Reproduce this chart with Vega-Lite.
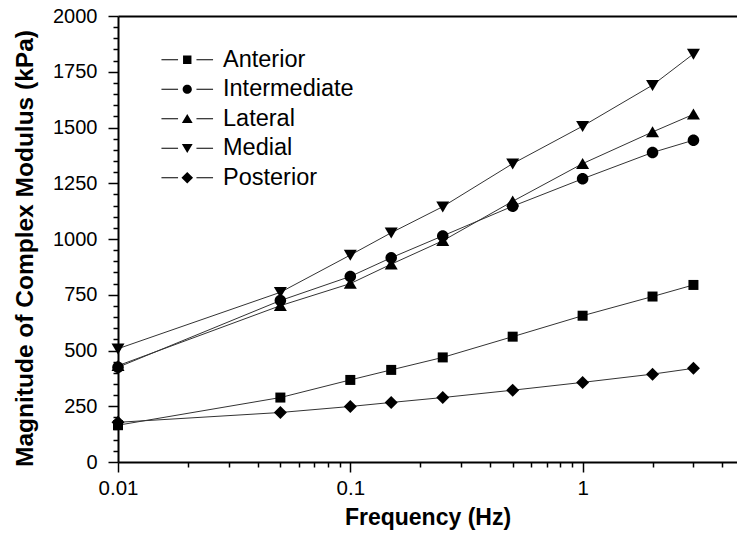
{
  "$schema": "https://vega.github.io/schema/vega-lite/v6.json",
  "width": 619,
  "height": 446,
  "autosize": {"type": "none"},
  "padding": {"left": 118, "top": 16, "right": 0, "bottom": 74},
  "background": "white",
  "config": {
    "view": {"stroke": null},
    "font": "Liberation Sans",
    "axis": {"grid": false, "domainColor": "black", "tickColor": "black", "labelColor": "black", "titleColor": "black", "labelFont": "Liberation Sans", "titleFont": "Liberation Sans"}
  },
  "data": {
    "values": [
      {"freq": 0.01, "region": "Anterior", "modulus": 165},
      {"freq": 0.05, "region": "Anterior", "modulus": 289},
      {"freq": 0.1, "region": "Anterior", "modulus": 368},
      {"freq": 0.15, "region": "Anterior", "modulus": 413},
      {"freq": 0.25, "region": "Anterior", "modulus": 469},
      {"freq": 0.5, "region": "Anterior", "modulus": 562},
      {"freq": 1, "region": "Anterior", "modulus": 656},
      {"freq": 2, "region": "Anterior", "modulus": 742},
      {"freq": 3, "region": "Anterior", "modulus": 794},
      {"freq": 0.01, "region": "Intermediate", "modulus": 425},
      {"freq": 0.05, "region": "Intermediate", "modulus": 724},
      {"freq": 0.1, "region": "Intermediate", "modulus": 832},
      {"freq": 0.15, "region": "Intermediate", "modulus": 916},
      {"freq": 0.25, "region": "Intermediate", "modulus": 1014},
      {"freq": 0.5, "region": "Intermediate", "modulus": 1147},
      {"freq": 1, "region": "Intermediate", "modulus": 1270},
      {"freq": 2, "region": "Intermediate", "modulus": 1388},
      {"freq": 3, "region": "Intermediate", "modulus": 1443},
      {"freq": 0.01, "region": "Lateral", "modulus": 432},
      {"freq": 0.05, "region": "Lateral", "modulus": 701},
      {"freq": 0.1, "region": "Lateral", "modulus": 800},
      {"freq": 0.15, "region": "Lateral", "modulus": 887},
      {"freq": 0.25, "region": "Lateral", "modulus": 992},
      {"freq": 0.5, "region": "Lateral", "modulus": 1169},
      {"freq": 1, "region": "Lateral", "modulus": 1338},
      {"freq": 2, "region": "Lateral", "modulus": 1480},
      {"freq": 3, "region": "Lateral", "modulus": 1559},
      {"freq": 0.01, "region": "Medial", "modulus": 508},
      {"freq": 0.05, "region": "Medial", "modulus": 761},
      {"freq": 0.1, "region": "Medial", "modulus": 928},
      {"freq": 0.15, "region": "Medial", "modulus": 1028},
      {"freq": 0.25, "region": "Medial", "modulus": 1145},
      {"freq": 0.5, "region": "Medial", "modulus": 1338},
      {"freq": 1, "region": "Medial", "modulus": 1506},
      {"freq": 2, "region": "Medial", "modulus": 1690},
      {"freq": 3, "region": "Medial", "modulus": 1830},
      {"freq": 0.01, "region": "Posterior", "modulus": 178},
      {"freq": 0.05, "region": "Posterior", "modulus": 222},
      {"freq": 0.1, "region": "Posterior", "modulus": 249},
      {"freq": 0.15, "region": "Posterior", "modulus": 267},
      {"freq": 0.25, "region": "Posterior", "modulus": 289},
      {"freq": 0.5, "region": "Posterior", "modulus": 322},
      {"freq": 1, "region": "Posterior", "modulus": 357},
      {"freq": 2, "region": "Posterior", "modulus": 394},
      {"freq": 3, "region": "Posterior", "modulus": 420}
    ]
  },
  "encoding": {
    "y": {
      "field": "modulus", "type": "quantitative",
      "scale": {"domain": [0, 2000], "nice": false},
      "axis": {
        "title": "Magnitude of Complex Modulus (kPa)",
        "titleFontSize": 24.5, "titleFontWeight": "bold", "titlePadding": 15, "titleY": 232,
        "values": [0, 50, 100, 150, 200, 250, 300, 350, 400, 450, 500, 550, 600, 650, 700, 750, 800, 850, 900, 950, 1000, 1050, 1100, 1150, 1200, 1250, 1300, 1350, 1400, 1450, 1500, 1550, 1600, 1650, 1700, 1750, 1800, 1850, 1900, 1950, 2000],
        "labelExpr": "datum.value % 250 === 0 ? format(datum.value, 'd') : ''",
        "labelFontSize": 20, "labelPadding": 11,
        "tickSize": {"condition": {"test": "datum.value % 250 === 0", "value": 10}, "value": 5},
        "tickWidth": 1.5, "domainWidth": 2, "labelFlush": false, "labelOverlap": false
      }
    }
  },
  "resolve": {"scale": {"shape": "independent"}, "axis": {"x": "independent"}},
  "layer": [
    {
      "mark": {"type": "line", "color": "#333333", "strokeWidth": 1},
      "encoding": {
        "x": {
          "field": "freq", "type": "quantitative",
          "scale": {"type": "log", "domain": [0.01, 4.62], "nice": false},
          "axis": {
            "orient": "bottom",
            "title": "Frequency (Hz)",
            "titleFontSize": 23, "titleFontWeight": "bold", "titlePadding": 8,
            "values": [0.01, 0.02, 0.03, 0.04, 0.05, 0.06, 0.07, 0.08, 0.09, 0.1, 0.2, 0.3, 0.4, 0.5, 0.6, 0.7, 0.8, 0.9, 1, 2, 3, 4],
            "labelExpr": "(datum.value == 0.01 || datum.value == 0.1 || datum.value == 1) ? format(datum.value, '~g') : ''",
            "labelFontSize": 20.5, "labelPadding": 6,
            "tickSize": {"condition": {"test": "datum.value == 0.01 || datum.value == 0.1 || datum.value == 1", "value": 10}, "value": 5},
            "tickWidth": 1.5, "domainWidth": 2, "labelFlush": false, "labelOverlap": false
          }
        },
        "detail": {"field": "region", "type": "nominal"}
      }
    },
    {
      "mark": {"type": "point", "filled": true, "color": "black", "opacity": 1, "size": 100, "strokeWidth": 0},
      "encoding": {
        "x": {
          "field": "freq", "type": "quantitative",
          "scale": {"type": "log", "domain": [0.01, 4.62], "nice": false},
          "axis": {"orient": "top", "title": null, "labels": false, "ticks": false, "domain": true, "domainWidth": 2, "domainColor": "black"}
        },
        "shape": {
          "field": "region", "type": "nominal",
          "scale": {
            "domain": ["Anterior", "Intermediate", "Lateral", "Medial", "Posterior"],
            "range": [
              "M-1,-1H1V1H-1Z",
              "M-1.15,0A1.15,1.15,0,1,1,1.15,0A1.15,1.15,0,1,1,-1.15,0Z",
              "M0,-1.15L1.3,1.05L-1.3,1.05Z",
              "M0,1.15L1.3,-1.05L-1.3,-1.05Z",
              "M0,-1.3L1.3,0L0,1.3L-1.3,0Z"
            ]
          },
          "legend": null
        }
      }
    },
    {
      "mark": {"type": "point", "filled": true, "color": "black", "opacity": 0, "size": 64, "strokeWidth": 0},
      "encoding": {
        "x": {
          "field": "freq", "type": "quantitative",
          "scale": {"type": "log", "domain": [0.01, 4.62], "nice": false},
          "axis": null
        },
        "shape": {
          "field": "region", "type": "nominal",
          "scale": {
            "domain": ["Anterior", "Intermediate", "Lateral", "Medial", "Posterior"],
            "range": [
              "M-6.45,-0.13H-2.3V0.13H-6.45Z M2.3,-0.13H6.45V0.13H2.3Z M-1.05,-1.05H1.05V1.05H-1.05Z",
              "M-6.45,-0.13H-2.3V0.13H-6.45Z M2.3,-0.13H6.45V0.13H2.3Z M-1.15,0A1.15,1.15,0,1,1,1.15,0A1.15,1.15,0,1,1,-1.15,0Z",
              "M-6.45,-0.13H-2.3V0.13H-6.45Z M2.3,-0.13H6.45V0.13H2.3Z M0,-1.2L1.35,1.05L-1.35,1.05Z",
              "M-6.45,-0.13H-2.3V0.13H-6.45Z M2.3,-0.13H6.45V0.13H2.3Z M0,1.2L1.35,-1.05L-1.35,-1.05Z",
              "M-6.45,-0.13H-2.3V0.13H-6.45Z M2.3,-0.13H6.45V0.13H2.3Z M0,-1.45L1.45,0L0,1.45L-1.45,0Z"
            ]
          },
          "legend": {
            "title": null,
            "orient": "none",
            "legendX": 57.5,
            "legendY": 32,
            "padding": 0,
            "symbolSize": 64,
            "symbolOpacity": 1,
            "symbolStrokeWidth": 0,
            "symbolFillColor": "black",
            "labelFontSize": 23.5,
            "labelFont": "Liberation Sans",
            "labelColor": "black",
            "labelOffset": 24,
            "rowPadding": 4.5,
            "labelLimit": 300
          }
        }
      }
    }
  ]
}
